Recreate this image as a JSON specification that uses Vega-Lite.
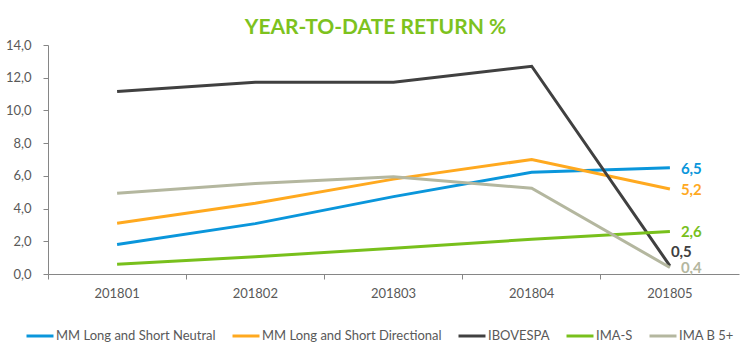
{
  "$schema": "https://vega.github.io/schema/vega-lite/v6.json",
  "width": 691,
  "height": 229,
  "autosize": {"type": "none"},
  "padding": {"left": 48, "top": 45, "right": 11, "bottom": 81},
  "background": "white",
  "title": {
    "text": "YEAR-TO-DATE RETURN %",
    "font": "Lato",
    "fontSize": 21,
    "fontWeight": "bold",
    "color": "#7DC21E",
    "anchor": "middle",
    "frame": "group",
    "dx": -18,
    "offset": 10,
    "dy": 9
  },
  "config": {
    "locale": {"number": {"decimal": ",", "thousands": ".", "grouping": [3], "currency": ["", ""]}},
    "view": {"stroke": null},
    "font": "Lato"
  },
  "data": {
    "values": [
      {"month": "201801", "series": "MM Long and Short Neutral", "value": 1.8},
      {"month": "201802", "series": "MM Long and Short Neutral", "value": 3.08},
      {"month": "201803", "series": "MM Long and Short Neutral", "value": 4.73},
      {"month": "201804", "series": "MM Long and Short Neutral", "value": 6.22},
      {"month": "201805", "series": "MM Long and Short Neutral", "value": 6.5},
      {"month": "201801", "series": "MM Long and Short Directional", "value": 3.1},
      {"month": "201802", "series": "MM Long and Short Directional", "value": 4.32},
      {"month": "201803", "series": "MM Long and Short Directional", "value": 5.8},
      {"month": "201804", "series": "MM Long and Short Directional", "value": 7.0},
      {"month": "201805", "series": "MM Long and Short Directional", "value": 5.2},
      {"month": "201801", "series": "IBOVESPA", "value": 11.15},
      {"month": "201802", "series": "IBOVESPA", "value": 11.72},
      {"month": "201803", "series": "IBOVESPA", "value": 11.72},
      {"month": "201804", "series": "IBOVESPA", "value": 12.7},
      {"month": "201805", "series": "IBOVESPA", "value": 0.5},
      {"month": "201801", "series": "IMA-S", "value": 0.59},
      {"month": "201802", "series": "IMA-S", "value": 1.06},
      {"month": "201803", "series": "IMA-S", "value": 1.57},
      {"month": "201804", "series": "IMA-S", "value": 2.12},
      {"month": "201805", "series": "IMA-S", "value": 2.6},
      {"month": "201801", "series": "IMA B 5+", "value": 4.93},
      {"month": "201802", "series": "IMA B 5+", "value": 5.54},
      {"month": "201803", "series": "IMA B 5+", "value": 5.95},
      {"month": "201804", "series": "IMA B 5+", "value": 5.24},
      {"month": "201805", "series": "IMA B 5+", "value": 0.4}
    ]
  },
  "encoding": {
    "x": {
      "field": "month",
      "type": "ordinal",
      "scale": {"type": "band", "paddingInner": 0, "paddingOuter": 0},
      "axis": {
        "title": null,
        "labelAngle": 0,
        "labelFont": "Lato",
        "labelFontSize": 13,
        "labelColor": "#595959",
        "labelPadding": 8,
        "domainColor": "#868686",
        "tickColor": "#868686",
        "tickSize": 5,
        "bandPosition": 0,
        "labelOffset": 0
      }
    },
    "y": {
      "field": "value",
      "type": "quantitative",
      "scale": {"domain": [0, 14]},
      "axis": {
        "title": null,
        "values": [0, 2, 4, 6, 8, 10, 12, 14],
        "format": ".1f",
        "grid": false,
        "labelFont": "Lato",
        "labelFontSize": 13,
        "labelColor": "#595959",
        "labelPadding": 12,
        "domainColor": "#868686",
        "tickColor": "#868686",
        "tickSize": 5
      }
    },
    "color": {
      "field": "series",
      "type": "nominal",
      "scale": {
        "domain": ["MM Long and Short Neutral", "MM Long and Short Directional", "IBOVESPA", "IMA-S", "IMA B 5+"],
        "range": ["#0A96DB", "#FFA91F", "#404040", "#78C01C", "#B4B79F"]
      }
    }
  },
  "layer": [
    {
      "mark": {"type": "line", "strokeWidth": 3},
      "encoding": {
        "color": {
          "field": "series",
          "type": "nominal",
          "legend": {
            "title": null,
            "orient": "none",
            "direction": "horizontal",
            "legendX": -23,
            "legendY": 276,
            "symbolType": "stroke",
            "symbolSize": 729,
            "symbolStrokeWidth": 3,
            "labelFont": "Lato",
            "labelFontSize": 13,
            "labelColor": "#595959",
            "labelOffset": 1,
            "labelLimit": 0,
            "columnPadding": 10
          }
        }
      }
    },
    {
      "transform": [{"filter": "datum.month == '201805' && datum.series != 'IBOVESPA'"}],
      "mark": {"type": "text", "align": "left", "baseline": "middle", "dx": 11, "dy": 1, "fontSize": 15, "fontWeight": "bold", "font": "Lato"},
      "encoding": {
        "text": {"field": "value", "type": "quantitative", "format": ".1f"},
        "color": {"field": "series", "type": "nominal", "legend": null}
      }
    },
    {
      "transform": [{"filter": "datum.month == '201805' && datum.series == 'IBOVESPA'"}],
      "mark": {"type": "text", "align": "left", "baseline": "middle", "dx": 1, "dy": -14, "fontSize": 15, "fontWeight": "bold", "font": "Lato"},
      "encoding": {
        "text": {"field": "value", "type": "quantitative", "format": ".1f"},
        "color": {"field": "series", "type": "nominal", "legend": null}
      }
    }
  ]
}
